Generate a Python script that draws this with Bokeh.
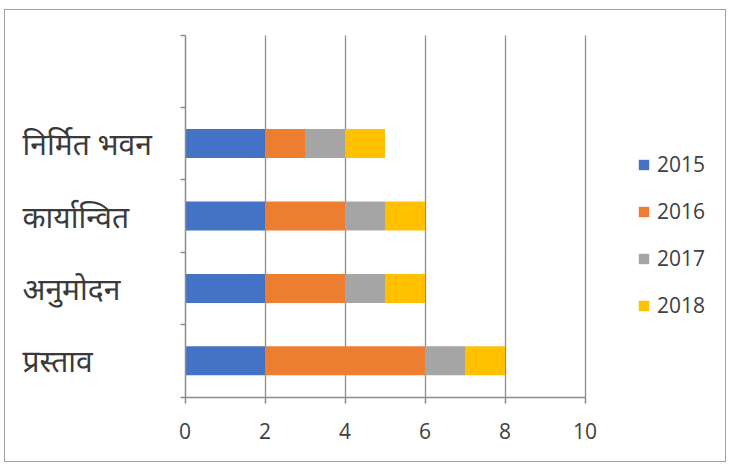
from bokeh.plotting import figure
from bokeh.models import ColumnDataSource, FixedTicker, Legend, Range1d, Grid
from bokeh.core.properties import value
from bokeh.embed import file_html
from bokeh.resources import INLINE

categories = ["प्रस्ताव", "अनुमोदन", "कार्यान्वित", "निर्मित भवन"]
years = ["2015", "2016", "2017", "2018"]
v2015 = [2, 2, 2, 2]
v2016 = [4, 2, 2, 1]
v2017 = [1, 1, 1, 1]
v2018 = [1, 1, 1, 1]
x_ticks = [0, 2, 4, 6, 8, 10]
colors = ["#4472C4", "#ED7D31", "#A5A5A5", "#FFC000"]

n_slots = len(categories) + 1
x_max = x_ticks[-1]
ypos = [i + 0.5 for i in range(len(categories))]
source = ColumnDataSource(dict(y=ypos, cat=categories,
                               **{"2015": v2015, "2016": v2016, "2017": v2017, "2018": v2018}))

# layout in pixels (canvas)
W, H = 722, 453
left_px, plot_w = 179.5, 400.0
top_px, plot_h = 24.5, 362.0
x_start = -left_px / plot_w * x_max
x_end = (W - left_px) / plot_w * x_max
y_end = n_slots + top_px / plot_h * n_slots
y_start = -(H - top_px - plot_h) / plot_h * n_slots
label_x = (17.0 - left_px) / plot_w * x_max

p = figure(width=W, height=H, output_backend="svg", toolbar_location=None,
           x_range=Range1d(x_start, x_end), y_range=Range1d(y_start, y_end),
           min_border=0)
p.styles = {"border": "1.5px solid #a0a0a0", "margin-left": "4px", "margin-top": "9px"}
p.outline_line_color = None

renderers = p.hbar_stack(years, y="y", height=0.4, color=colors, source=source, line_color=None)

# x axis
xa = p.xaxis[0]
xa.fixed_location = 0
xa.bounds = (0, x_max)
xa.ticker = FixedTicker(ticks=x_ticks)
xa.axis_line_color = "#8c8c8c"
xa.axis_line_width = 1.5
xa.major_tick_line_color = "#8c8c8c"
xa.major_tick_line_width = 1.5
xa.major_tick_in = 0
xa.major_tick_out = 6
xa.minor_tick_line_color = None
xa.major_label_text_font = "Open Sans"
xa.major_label_text_font_size = "21px"
xa.major_label_text_color = "#404040"
xa.major_label_standoff = 20

# y axis: ticks between category slots (no tick labels; categories drawn as text)
ya = p.yaxis[0]
ya.fixed_location = 0
ya.bounds = (0, n_slots)
ya.ticker = FixedTicker(ticks=list(range(n_slots + 1)))
ya.axis_line_color = "#8c8c8c"
ya.axis_line_width = 1.5
ya.major_tick_line_color = "#8c8c8c"
ya.major_tick_line_width = 1.5
ya.major_tick_in = 0
ya.major_tick_out = 5
ya.minor_tick_line_color = None
ya.major_label_text_color = None

p.ygrid.grid_line_color = None
xg = p.xgrid[0]
xg.ticker = FixedTicker(ticks=x_ticks[1:])
xg.grid_line_color = "#8c8c8c"
xg.grid_line_width = 1.3
xg.bounds = (0, x_max)
if "cross_bounds" in Grid.properties():
    xg.cross_bounds = (0, n_slots)
    xg.level = "underlay"
else:
    xg.grid_line_color = None
    p.segment(x0=x_ticks[1:], y0=0, x1=x_ticks[1:], y1=n_slots,
              line_color="#8c8c8c", line_width=1.3, level="underlay")

p.text(x=label_x, y="y", text="cat", source=source, text_align="left", text_baseline="middle",
       text_font=value("Noto Sans"), text_font_size="30px", text_color="#3a3a3a")

legend = Legend(items=[(yr, [r]) for yr, r in zip(years, renderers)], location=(632, 144),
                padding=0, margin=0, border_line_color=None, background_fill_alpha=0,
                glyph_width=13, glyph_height=13, label_standoff=7, spacing=19,
                label_text_font="Open Sans", label_text_font_size="21px",
                label_text_color="#404040")
p.add_layout(legend, "center")

open("out.html", "w").write(file_html(p, INLINE))
